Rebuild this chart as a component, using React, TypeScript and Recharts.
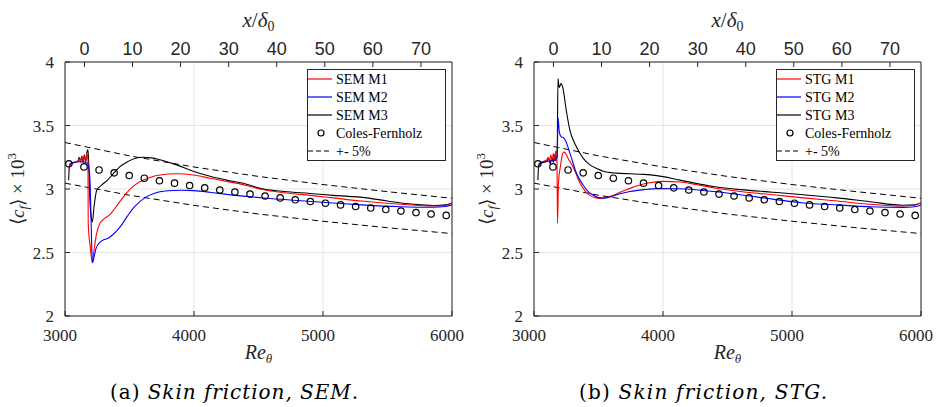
import { ComposedChart, Line, Scatter, XAxis, YAxis, CartesianGrid, Legend } from 'recharts';

const SERIF = '"Liberation Serif", "Times New Roman", serif';
const CAPTION_FONT = '"DejaVu Serif", "Liberation Serif", serif';
const SANS = '"Liberation Sans", Arial, Helvetica, sans-serif';
const INK = '#262626';

const RE_TICKS = [3000, 4000, 5000, 6000];
const CF_TICKS = [2, 2.5, 3, 3.5, 4];
const XD_TICKS = [0, 10, 20, 30, 40, 50, 60, 70];
const XD_DOMAIN: [number, number] = [-4.05, 76.46];

// Coles-Fernholz reference points
const colesRe = [3030, 3147, 3264, 3381, 3498, 3615, 3732, 3849, 3966, 4083, 4200, 4317, 4434,
  4551, 4668, 4785, 4902, 5019, 5136, 5253, 5370, 5487, 5604, 5721, 5838, 5955];
const colesCf = [3.199, 3.174, 3.15, 3.127, 3.106, 3.085, 3.065, 3.046, 3.027, 3.009, 2.992, 2.976, 2.96,
  2.945, 2.93, 2.915, 2.901, 2.888, 2.875, 2.862, 2.85, 2.838, 2.826, 2.814, 2.803, 2.792];

// +-5% band
const bandRe = [3000, 3500, 4000, 4500, 5000, 5500, 6000];
const bandUpper = [3.366, 3.261, 3.173, 3.099, 3.035, 2.979, 2.927];
const bandLower = [3.046, 2.951, 2.871, 2.803, 2.746, 2.695, 2.649];

type Pt = [number, number];

const semM1: Pt[] = [[3030, 3.15], [3045, 3.2], [3070, 3.21], [3100, 3.22], [3110, 3.24], [3120, 3.22], [3130, 3.25],
  [3140, 3.22], [3150, 3.26], [3160, 3.22], [3170, 3.28], [3178, 3.22], [3180, 2.73], [3195, 2.55], [3212, 2.42],
  [3225, 2.52], [3245, 2.65], [3271, 2.73], [3310, 2.77], [3349, 2.8], [3410, 2.88], [3478, 2.97], [3540, 3.03],
  [3607, 3.07], [3670, 3.095], [3736, 3.11], [3865, 3.12], [3994, 3.11], [4124, 3.085], [4253, 3.06], [4400, 3.03],
  [4511, 3.0], [4700, 2.97], [4900, 2.95], [5080, 2.93], [5300, 2.905], [5600, 2.88], [5850, 2.866], [5950, 2.87],
  [6000, 2.89]];

const semM2: Pt[] = [[3030, 3.17], [3040, 3.2], [3070, 3.21], [3100, 3.215], [3130, 3.215], [3160, 3.21], [3180, 3.19],
  [3192, 3.1], [3200, 2.85], [3207, 2.55], [3213, 2.42], [3222, 2.45], [3240, 2.53], [3271, 2.58], [3300, 2.6],
  [3330, 2.61], [3370, 2.64], [3426, 2.7], [3480, 2.78], [3529, 2.85], [3580, 2.9], [3633, 2.94], [3690, 2.965],
  [3736, 2.978], [3800, 2.986], [3900, 2.99], [4000, 2.987], [4120, 2.975], [4253, 2.958], [4400, 2.942],
  [4563, 2.927], [4800, 2.91], [5080, 2.89], [5300, 2.875], [5600, 2.86], [5850, 2.856], [5950, 2.862], [6000, 2.875]];

const semM3: Pt[] = [[3028, 3.07], [3035, 3.18], [3050, 3.2], [3080, 3.21], [3100, 3.22], [3110, 3.25], [3120, 3.21],
  [3130, 3.26], [3140, 3.21], [3150, 3.27], [3160, 3.21], [3170, 3.29], [3178, 3.31], [3184, 3.2], [3190, 3.0],
  [3200, 2.8], [3212, 2.74], [3225, 2.86], [3246, 2.99], [3284, 3.03], [3330, 3.07], [3374, 3.12], [3420, 3.17],
  [3478, 3.21], [3540, 3.24], [3607, 3.25], [3670, 3.245], [3736, 3.23], [3865, 3.19], [3994, 3.14], [4124, 3.1],
  [4253, 3.07], [4400, 3.04], [4511, 3.005], [4700, 2.98], [4900, 2.965], [5080, 2.95], [5338, 2.93], [5500, 2.905],
  [5700, 2.88], [5856, 2.87], [5950, 2.875], [6000, 2.89]];

const stgM1: Pt[] = [[3033, 3.19], [3050, 3.21], [3080, 3.22], [3100, 3.23], [3110, 3.25], [3120, 3.22], [3130, 3.27],
  [3140, 3.22], [3150, 3.28], [3160, 3.22], [3170, 3.3], [3178, 3.24], [3182, 2.73], [3190, 3.05], [3205, 3.18],
  [3218, 3.26], [3230, 3.29], [3245, 3.28], [3265, 3.24], [3305, 3.17], [3357, 3.045], [3400, 2.98], [3434, 2.95],
  [3480, 2.93], [3520, 2.925], [3570, 2.935], [3615, 2.95], [3680, 2.98], [3744, 3.005], [3874, 3.045], [4002, 3.06],
  [4132, 3.055], [4260, 3.035], [4390, 3.01], [4600, 2.98], [4850, 2.955], [5088, 2.93], [5350, 2.905], [5605, 2.88],
  [5863, 2.866], [5950, 2.872], [6000, 2.89]];

const stgM2: Pt[] = [[3033, 3.18], [3045, 3.2], [3080, 3.215], [3120, 3.22], [3160, 3.23], [3180, 3.25], [3186, 3.56],
  [3196, 3.45], [3212, 3.41], [3228, 3.405], [3245, 3.38], [3279, 3.28], [3331, 3.12], [3382, 3.03], [3420, 2.98],
  [3460, 2.95], [3512, 2.93], [3560, 2.93], [3600, 2.94], [3660, 2.96], [3744, 2.98], [3851, 2.995], [3951, 3.003],
  [4132, 3.002], [4390, 2.98], [4600, 2.955], [4850, 2.92], [5088, 2.89], [5350, 2.875], [5605, 2.86], [5863, 2.855],
  [5950, 2.86], [6000, 2.872]];

const stgM3: Pt[] = [[3030, 3.07], [3036, 3.18], [3050, 3.2], [3080, 3.21], [3100, 3.22], [3115, 3.24], [3125, 3.2],
  [3140, 3.25], [3150, 3.21], [3160, 3.27], [3170, 3.22], [3180, 3.32], [3186, 3.87], [3195, 3.8], [3210, 3.83],
  [3225, 3.79], [3250, 3.62], [3279, 3.46], [3320, 3.35], [3357, 3.28], [3400, 3.22], [3434, 3.19], [3490, 3.16],
  [3537, 3.14], [3640, 3.125], [3744, 3.12], [3850, 3.115], [3951, 3.105], [4132, 3.07], [4390, 3.02], [4600, 2.995],
  [4850, 2.975], [5088, 2.955], [5350, 2.93], [5605, 2.9], [5863, 2.872], [5950, 2.875], [6000, 2.89]];

const toRows = (pts: Pt[]) => pts.map(([re, cf]) => ({ re, cf }));
const colesRows = colesRe.map((re, i) => ({ re, cf: colesCf[i] }));
const upperRows = bandRe.map((re, i) => ({ re, cf: bandUpper[i] }));
const lowerRows = bandRe.map((re, i) => ({ re, cf: bandLower[i] }));
// empty series that only ties the top and right axes into the chart
const topAxisRows = XD_TICKS.map((xd) => ({ xd, cf: null }));

const BottomTick = ({ x, y, payload }: any) => (
  <text x={x - 5} y={y + 14} textAnchor="middle" fontFamily={SERIF} fontSize={17} fill={INK}>{payload.value}</text>
);
const LeftTick = ({ x, y, payload }: any) => (
  <text x={x} y={y + 6} textAnchor="end" fontFamily={SERIF} fontSize={17} fill={INK}>{payload.value}</text>
);
const TopTick = ({ x, y, payload }: any) => (
  <text x={x} y={y} textAnchor="middle" fontFamily={SANS} fontSize={18} fill={INK}>{payload.value}</text>
);

const yTitle = (props: any) => {
  const vb = props.viewBox;
  const cx = vb.x + 24;
  const cy = vb.y + vb.height / 2;
  return (
    <text x={cx} y={cy} transform={`rotate(-90 ${cx} ${cy})`} textAnchor="middle" fontFamily={SERIF} fontSize={19} fill={INK}>
      ⟨<tspan fontStyle="italic">c</tspan><tspan fontStyle="italic" fontSize={13} dy={4}>f</tspan>
      <tspan dy={-4}>⟩ × 10</tspan><tspan fontSize={13} dy={-8}>3</tspan>
    </text>
  );
};
const topTitle = (props: any) => {
  const vb = props.viewBox;
  return (
    <text x={vb.x + vb.width / 2} y={27} textAnchor="middle" fontFamily={SERIF} fontSize={21} fill={INK}>
      <tspan fontStyle="italic">x</tspan>/<tspan fontStyle="italic">δ</tspan><tspan fontSize={14} dy={4}>0</tspan>
    </text>
  );
};
const bottomTitle = (props: any) => {
  const vb = props.viewBox;
  return (
    <text x={vb.x + vb.width / 2} y={vb.y + 43} textAnchor="middle" fontFamily={SERIF} fontSize={20} fill={INK}>
      <tspan fontStyle="italic">Re</tspan><tspan fontStyle="italic" fontSize={13} dy={4}>θ</tspan>
    </text>
  );
};

const Circle = (props: any) => (
  <circle cx={props.cx} cy={props.cy} r={3.2} fill="none" stroke="#000" strokeWidth={1.2} />
);

function makeLegend(prefix: string) {
  const rows = [
    { label: `${prefix} M1`, color: '#ff0000', kind: 'line' },
    { label: `${prefix} M2`, color: '#0000ff', kind: 'line' },
    { label: `${prefix} M3`, color: '#000000', kind: 'line' },
    { label: 'Coles-Fernholz', color: '#000000', kind: 'circle' },
    { label: '+- 5%', color: '#000000', kind: 'dash' },
  ];
  return () => (
    <svg width={139} height={92} style={{ display: 'block' }}>
      <rect x={0.5} y={0.5} width={138} height={91} fill="#fff" stroke={INK} strokeWidth={1} />
      {rows.map((r, i) => {
        const y = 10 + i * 18;
        return (
          <g key={r.label}>
            {r.kind === 'line' && <line x1={1} x2={25} y1={y} y2={y} stroke={r.color} strokeWidth={1.2} />}
            {r.kind === 'dash' && <line x1={1} x2={25} y1={y} y2={y} stroke={r.color} strokeWidth={1} strokeDasharray="5 3" />}
            {r.kind === 'circle' && <circle cx={14} cy={y} r={3} fill="none" stroke={r.color} strokeWidth={1.2} />}
            <text x={29} y={y + 5} fontFamily={SERIF} fontSize={14} fill="#000">{r.label}</text>
          </g>
        );
      })}
    </svg>
  );
}

interface PanelProps {
  prefix: string;
  m1: Pt[];
  m2: Pt[];
  m3: Pt[];
}

function Panel({ prefix, m1, m2, m3 }: PanelProps) {
  return (
    <ComposedChart width={470} height={407} margin={{ top: 0, right: 0, bottom: 0, left: 0 }}>
      <CartesianGrid stroke="#e4e4e4" strokeWidth={1} />
      <XAxis dataKey="re" type="number" domain={[3000, 6000]} ticks={RE_TICKS} allowDataOverflow
        height={91} tickSize={-5} tickMargin={16} tick={BottomTick} stroke={INK} label={bottomTitle} />
      <XAxis xAxisId="top" dataKey="xd" orientation="top" type="number" domain={XD_DOMAIN} ticks={XD_TICKS} allowDataOverflow
        height={62} tickSize={-5} tickMargin={12} tick={TopTick} stroke={INK} label={topTitle} />
      <YAxis type="number" domain={[2, 4]} ticks={CF_TICKS} allowDataOverflow width={65}
        tickSize={-5} tickMargin={16} tick={LeftTick} stroke={INK} label={yTitle} />
      <YAxis yAxisId="right" orientation="right" type="number" domain={[2, 4]} ticks={CF_TICKS} allowDataOverflow
        width={18} tickSize={-5} tick={false} stroke={INK} />
      <Line xAxisId="top" yAxisId="right" data={topAxisRows} dataKey="cf" stroke="none" dot={false}
        legendType="none" isAnimationActive={false} />
      <Line data={lowerRows} dataKey="cf" type="linear" stroke="#000" strokeWidth={1} strokeDasharray="6 4" dot={false} isAnimationActive={false} />
      <Line data={upperRows} dataKey="cf" type="linear" stroke="#000" strokeWidth={1} strokeDasharray="6 4" dot={false} isAnimationActive={false} />
      <Scatter data={colesRows} dataKey="cf" shape={Circle} isAnimationActive={false} />
      <Line data={toRows(m3)} dataKey="cf" type="monotone" stroke="#000000" strokeWidth={1.1} dot={false} isAnimationActive={false} />
      <Line data={toRows(m1)} dataKey="cf" type="monotone" stroke="#ff0000" strokeWidth={1.1} dot={false} isAnimationActive={false} />
      <Line data={toRows(m2)} dataKey="cf" type="monotone" stroke="#0000ff" strokeWidth={1.1} dot={false} isAnimationActive={false} />
      <Legend layout="vertical" align="center" verticalAlign="middle" content={makeLegend(prefix)}
        wrapperStyle={{ position: 'absolute', left: 307, top: 69, width: 139, height: 92 }} />
    </ComposedChart>
  );
}

function Caption({ x, tag, text }: { x: number; tag: string; text: string }) {
  return (
    <text x={x} y={399} textAnchor="middle" fontFamily={CAPTION_FONT} fontSize={20} fill="#000" textLength={248} lengthAdjust="spacing">
      {tag} <tspan fontStyle="italic">{text}</tspan>
    </text>
  );
}

export default function App() {
  return (
    <div style={{ position: 'absolute', left: 0, top: 0, width: 939, height: 407, background: '#fff', overflow: 'hidden' }}>
      <div style={{ position: 'absolute', left: 0, top: 0 }}>
        <Panel prefix="SEM" m1={semM1} m2={semM2} m3={semM3} />
      </div>
      <div style={{ position: 'absolute', left: 469, top: 0 }}>
        <Panel prefix="STG" m1={stgM1} m2={stgM2} m3={stgM3} />
      </div>
      <svg width={939} height={407} style={{ position: 'absolute', left: 0, top: 0, pointerEvents: 'none' }}>
        <Caption x={234} tag="(a)" text="Skin friction, SEM." />
        <Caption x={703} tag="(b)" text="Skin friction, STG." />
      </svg>
    </div>
  );
}
